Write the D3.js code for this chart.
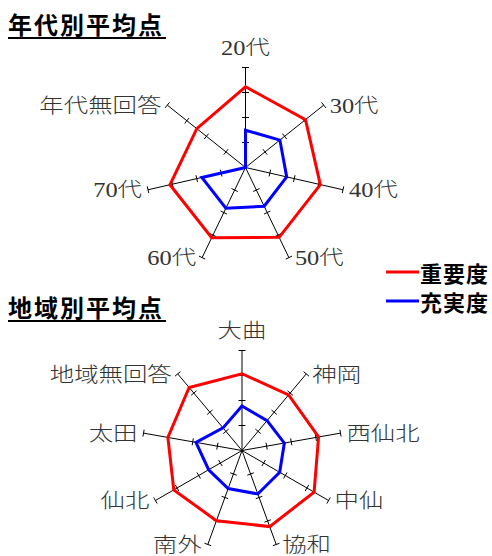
<!DOCTYPE html>
<html>
<head>
<meta charset="utf-8">
<script src="https://cdn.jsdelivr.net/npm/d3@7"></script>
<style>
  body { margin: 0; background: #fff; }
  svg { display: block; }
</style>
</head>
<body>
<div id="chart"></div>
<script>
// data (4-point scale)
var ageLabels = ["20代", "30代", "40代", "50代", "60代", "70代", "年代無回答"];
var ageImportance = [3.23, 3.07, 3.07, 3.10, 3.12, 3.10, 2.49];
var ageFulfillment = [1.49, 1.76, 1.69, 1.72, 1.81, 1.79, 0];

var areaLabels = ["大曲", "神岡", "西仙北", "中仙", "協和", "南外", "仙北", "太田", "地域無回答"];
var areaImportance = [3.07, 2.90, 3.11, 3.33, 3.24, 2.99, 3.15, 3.01, 3.29];
var areaFulfillment = [1.78, 1.56, 1.72, 1.74, 1.85, 1.62, 1.54, 1.87, 1.18];

var seriesNames = ["重要度", "充実度"];
var seriesColors = ["#ff0000", "#0000ff"];
var tickValues = [1, 2, 3, 4];

var svgWidth = 492;
var svgHeight = 556;

var svg = d3.select("#chart")
  .append("svg")
  .attr("width", svgWidth)
  .attr("height", svgHeight);

var r = d3.scaleLinear().domain([0, 4]).range([0, 100]);

var labelFont = "'Liberation Serif', 'Noto Sans CJK JP', serif";
var boldFont = "'Noto Sans CJK JP', sans-serif";

function drawTitle(text, x, y) {
  var g = svg.append("g").attr("transform", `translate(${x}, ${y})`);
  g.append("text")
    .attr("font-family", boldFont)
    .attr("font-weight", "bold")
    .attr("font-size", 24)
    .attr("letter-spacing", 2)
    .attr("fill", "#000")
    .text(text);
  g.append("line")
    .attr("x1", 0).attr("x2", 158)
    .attr("y1", 4).attr("y2", 4)
    .attr("stroke", "#000")
    .attr("stroke-width", 2);
}

function drawRadar(cx, cy, labels, series) {
  var n = labels.length;
  var angle = d3.scaleLinear().domain([0, n]).range([0, 2 * Math.PI]);
  var g = svg.append("g").attr("transform", `translate(${cx}, ${cy})`);

  function pt(i, v) {
    var a = angle(i);
    return [r(v) * Math.sin(a), -r(v) * Math.cos(a)];
  }

  // axes with ticks
  labels.forEach(function(lab, i) {
    var a = angle(i);
    var end = pt(i, 4);
    g.append("line")
      .attr("x1", 0).attr("y1", 0)
      .attr("x2", end[0]).attr("y2", end[1])
      .attr("stroke", "#000")
      .attr("stroke-width", 1);
    var px = Math.cos(a) * 3.5, py = Math.sin(a) * 3.5;
    tickValues.forEach(function(t) {
      var p = pt(i, t);
      g.append("line")
        .attr("x1", p[0] - px).attr("y1", p[1] - py)
        .attr("x2", p[0] + px).attr("y2", p[1] + py)
        .attr("stroke", "#000")
        .attr("stroke-width", 1);
    });

    // label
    var lx, ly, anchor;
    if (Math.abs(Math.sin(a)) < 0.1) {
      lx = end[0]; ly = end[1] - 19; anchor = "middle";
    } else if (Math.sin(a) > 0) {
      lx = end[0] + 6; ly = end[1] + 1; anchor = "start";
    } else {
      lx = end[0] - 6; ly = end[1] + 1; anchor = "end";
    }
    g.append("g")
      .attr("transform", `translate(${lx}, ${ly}) scale(1.22, 1)`)
      .append("text")
      .attr("text-anchor", anchor)
      .attr("dominant-baseline", "central")
      .attr("font-family", labelFont)
      .attr("font-weight", 300)
      .attr("font-size", 20)
      .attr("fill", "#333")
      .text(lab);
  });

  var line = d3.line().curve(d3.curveLinearClosed);
  series.forEach(function(vals, k) {
    g.append("path")
      .attr("d", line(vals.map(function(v, i) { return pt(i, v); })))
      .attr("fill", "none")
      .attr("stroke", seriesColors[k])
      .attr("stroke-width", 3)
      .attr("stroke-linejoin", "miter");
  });
}

drawTitle("年代別平均点", 8, 34);
drawRadar(245.5, 167.5, ageLabels, [ageImportance, ageFulfillment]);

drawTitle("地域別平均点", 8, 317);
drawRadar(242, 450.5, areaLabels, [areaImportance, areaFulfillment]);

// legend
var legend = svg.append("g").attr("transform", "translate(386, 272)");
seriesNames.forEach(function(name, k) {
  var row = legend.append("g").attr("transform", `translate(0, ${k * 29})`);
  row.append("line")
    .attr("x1", 0).attr("x2", 33)
    .attr("y1", 0).attr("y2", 0)
    .attr("stroke", seriesColors[k])
    .attr("stroke-width", 3);
  row.append("text")
    .attr("x", 34)
    .attr("y", 0)
    .attr("dominant-baseline", "central")
    .attr("font-family", boldFont)
    .attr("font-weight", "bold")
    .attr("font-size", 22)
    .attr("letter-spacing", 1)
    .attr("fill", "#000")
    .text(name);
});
</script>
</body>
</html>
